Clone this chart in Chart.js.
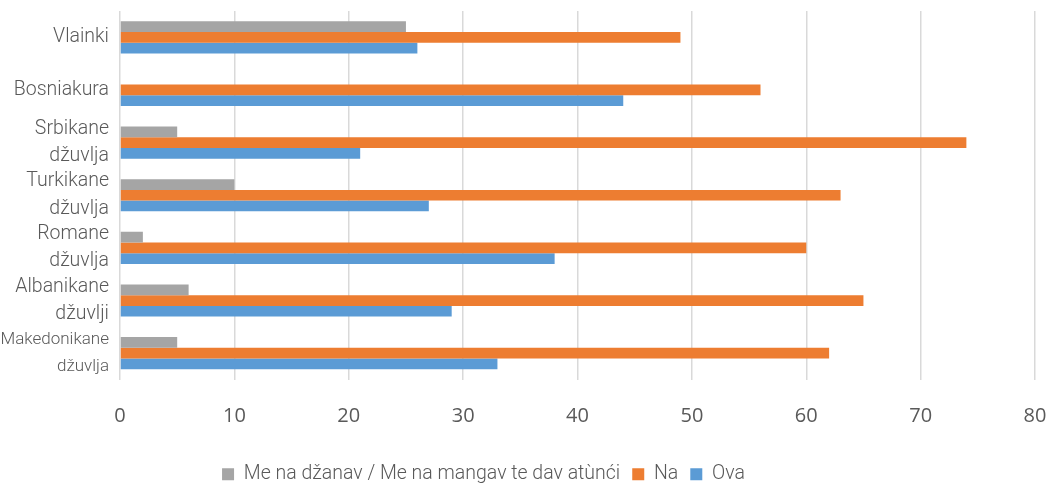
<!DOCTYPE html>
<html>
<head>
<meta charset="utf-8">
<script src="https://cdn.jsdelivr.net/npm/chart.js@4.4.1/dist/chart.umd.min.js"></script>
<style>
  html, body { margin: 0; padding: 0; background: #fff; }
  #wrap { width: 1051px; height: 483px; }
</style>
</head>
<body>
<div id="wrap"><canvas id="chart"></canvas></div>
<script>
// groups, top to bottom
const categories = [
  ['Vlainki'],
  ['Bosniakura'],
  ['Srbikane', 'džuvlja'],
  ['Turkikane', 'džuvlja'],
  ['Romane', 'džuvlja'],
  ['Albanikane', 'džuvlji'],
  ['Makedonikane', 'džuvlja']
];
const dontKnow = [25, 0, 5, 10, 2, 6, 5];
const no = [49, 56, 74, 63, 60, 65, 62];
const yes = [26, 44, 21, 27, 38, 29, 33];
const seriesNames = ['Me na džanav / Me na mangav te dav atùnći', 'Na', 'Ova'];
const xTicks = [0, 10, 20, 30, 40, 50, 60, 70, 80];

const textColor = '#595959';

// legend sits lower and a bit left in the original
const legendNudge = {
  id: 'legendNudge',
  afterLayout(chart) {
    const lg = chart.legend;
    lg.top += 11;
    lg.bottom += 11;
    lg.left -= 34;
    lg.right -= 34;
  }
};

new Chart(document.getElementById('chart'), {
  type: 'bar',
  data: {
    labels: categories,
    datasets: [
      { label: seriesNames[0], data: dontKnow, backgroundColor: '#a5a5a5' },
      { label: seriesNames[1], data: no, backgroundColor: '#ed7d31' },
      { label: seriesNames[2], data: yes, backgroundColor: '#5b9bd5' }
    ]
  },
  options: {
    indexAxis: 'y',
    responsive: true,
    maintainAspectRatio: false,
    animation: false,
    layout: { padding: { top: 11, right: 16, left: 0, bottom: 0 } },
    datasets: { bar: { categoryPercentage: 0.61, barPercentage: 1.0 } },
    scales: {
      x: {
        min: 0, max: 80,
        afterBuildTicks: (axis) => { axis.ticks = xTicks.map(v => ({ value: v })); },
        grid: { color: '#d9d9d9', lineWidth: 1.5, drawTicks: false },
        border: { display: false },
        ticks: {
          color: textColor,
          padding: 25,
          font: { family: 'Open Sans', size: 20 }
        },
        afterFit: (axis) => {
          axis.height = 62;
          axis.paddingLeft = 0;
          axis.paddingRight = 0;
        }
      },
      y: {
        grid: { display: false },
        border: { display: false },
        ticks: {
          color: textColor,
          padding: 3,
          autoSkip: false,
          font: (ctx) => ({
            family: 'Roboto',
            weight: 300,
            size: ctx.index === 6 ? 17 : 19.5,
            lineHeight: ctx.index === 6 ? 1.6 : 1.4
          })
        },
        afterFit: (axis) => {
          axis.width = 120;
          axis.paddingTop = 0;
          axis.paddingBottom = 0;
        }
      }
    },
    plugins: {
      tooltip: { enabled: false },
      legend: {
        position: 'bottom',
        labels: {
          color: textColor,
          boxWidth: 12,
          boxHeight: 12,
          padding: 12,
          font: { family: 'Roboto', weight: 300, size: 19.5 }
        }
      }
    }
  },
  plugins: [legendNudge]
});
</script>
</body>
</html>
